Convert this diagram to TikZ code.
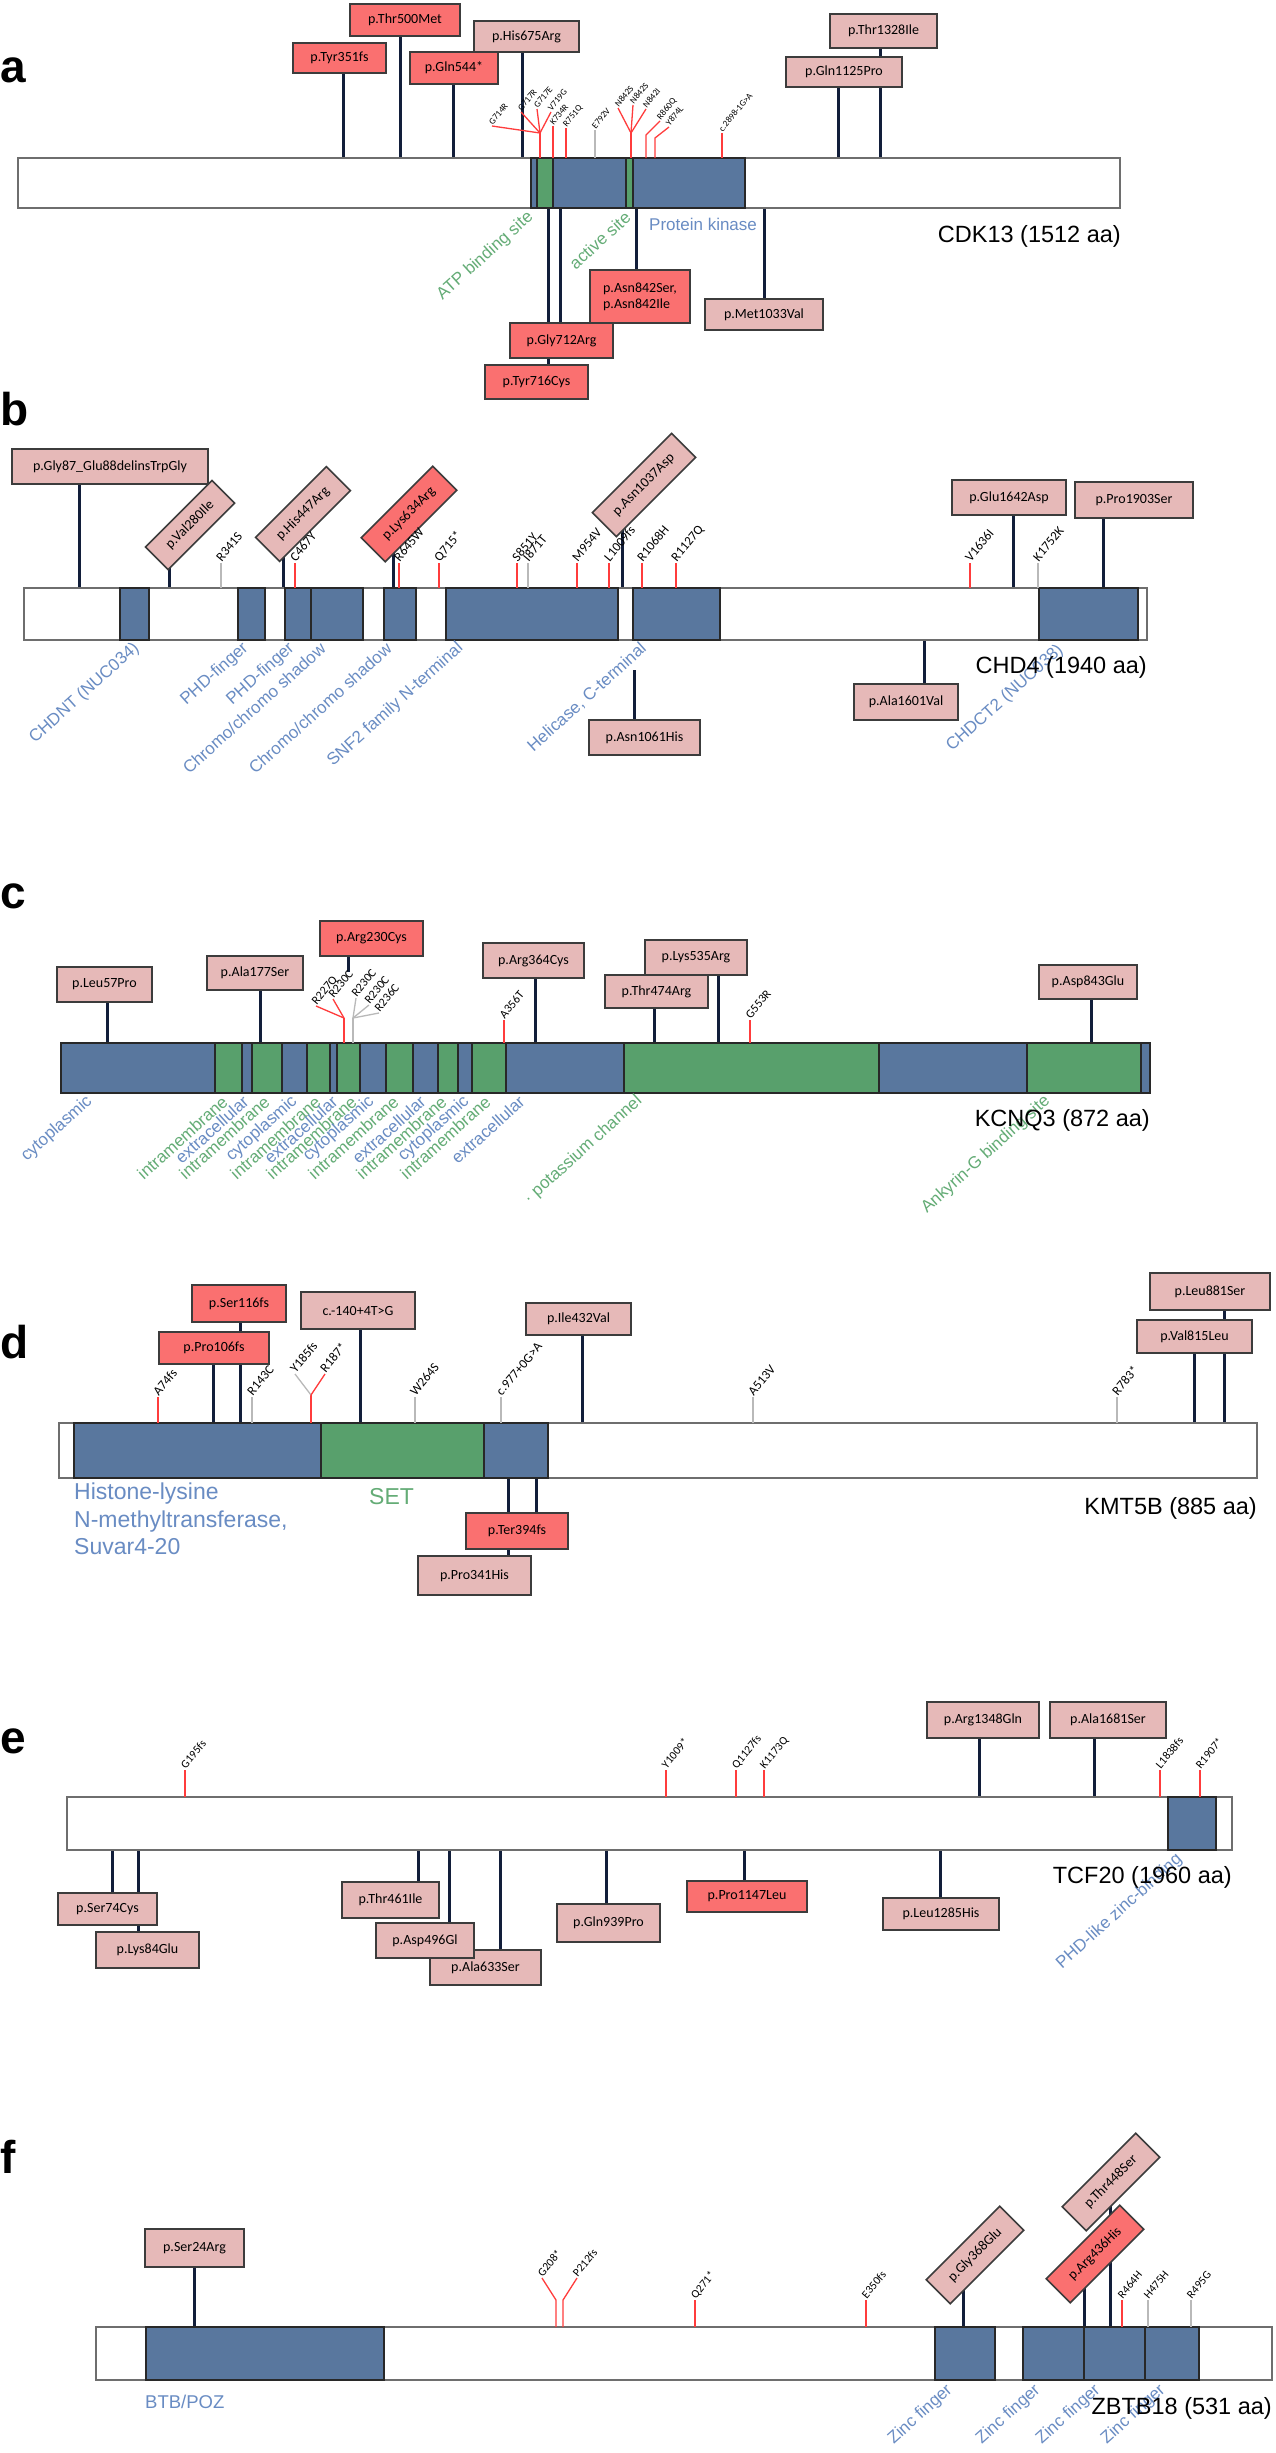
\documentclass[tikz,border=0pt]{standalone}
\usepackage{fontspec}
\setmainfont{Liberation Sans}
\newfontfamily\boxfont{Carlito}
\pgfdeclarelayer{back}
\pgfdeclarelayer{bg}
\pgfsetlayers{back,bg,main}
\definecolor{domblue}{RGB}{89,119,158}
\definecolor{domgreen}{RGB}{88,160,108}
\definecolor{pinkbox}{RGB}{230,185,184}
\definecolor{redbox}{RGB}{250,112,112}
\definecolor{stemnavy}{RGB}{18,30,58}
\definecolor{redline}{RGB}{255,60,60}
\definecolor{grayline}{RGB}{185,185,185}
\definecolor{barc}{RGB}{110,110,110}
\definecolor{domline}{RGB}{40,40,40}
\definecolor{boxline}{RGB}{60,60,60}
\definecolor{labblue}{RGB}{105,140,195}
\definecolor{labgreen}{RGB}{100,172,118}
\def\mlsize{10}
\tikzset{
  protbar/.style={draw=barc, line width=2pt, fill=white},
  dom/.style={draw=domline, line width=1.5pt},
  bluedom/.style={dom, fill=domblue},
  greendom/.style={dom, fill=domgreen},
  lbox/.style={draw=boxline, line width=1.6pt, fill=pinkbox, font=\boxfont\fontsize{14}{16}\selectfont, inner sep=0pt, text=black},
  rbox/.style={lbox, fill=redbox},
  stem/.style={draw=stemnavy, line width=3pt},
  rstem/.style={draw=redline, line width=1.3pt},
  gstem/.style={draw=grayline, line width=1.3pt},
  mlab/.style={font=\boxfont\fontsize{\mlsize}{\mlsize}\selectfont, rotate=50, anchor=base west, inner sep=1pt},
  dlabb/.style={font=\fontsize{17}{19}\selectfont, text=labblue, rotate=42, anchor=east, inner sep=0pt},
  dlabg/.style={dlabb, text=labgreen},
  hlab/.style={font=\fontsize{17}{19}\selectfont, text=labblue, anchor=west, inner sep=0pt},
  gtitle/.style={font=\fontsize{23.5}{26}\selectfont, anchor=east, inner sep=0pt},
  plabel/.style={font=\bfseries\fontsize{46}{50}\selectfont, anchor=base west, inner sep=0pt},
}
\newcommand\BX[7]{\node[#2, minimum width={#5-#3}, minimum height={#6-#4}] (#1) at ({(#3+#5)/2},{(#4+#6)/2}) {#7};}
\newcommand\ST[4]{\coordinate (#1) at (#2,#3);\begin{pgfonlayer}{bg}\draw[stem] (#1) -- (#1 |- #4.center);\end{pgfonlayer}}
\newcommand\ML[6]{\coordinate (#1b) at (#2,#3);\node[mlab] (#1) at (#2,#4) {#6};\draw[#5] (#1b) -- (#1.base west);}
\begin{document}
\begin{tikzpicture}[x=1pt,y=-1pt]
\begin{pgfonlayer}{back}
\fill[white] (0,0) rectangle (1275,2453);
\end{pgfonlayer}
\useasboundingbox (0,0) rectangle (1275,2453);

% ================= Panel a =================
\node[plabel] (pa) at (0,82) {a};
\draw[protbar] (18,158) rectangle (1120,208);
\draw[bluedom] (531,158) rectangle (745,208);
\draw[greendom] (537,158) rectangle (553,208);
\draw[greendom] (626,158) rectangle (633,208);
\BX{Tyr351}{rbox}{293}{43}{386}{73}{p.Tyr351fs}
\BX{Thr500}{rbox}{350}{4}{460}{36}{p.Thr500Met}
\BX{Gln544}{rbox}{410}{52}{498}{84}{p.Gln544*}
\BX{His675}{lbox}{474}{21}{579}{52}{p.His675Arg}
\BX{Thr1328}{lbox}{830}{14}{937}{48}{p.Thr1328Ile}
\BX{Gln1125}{lbox}{786}{57}{902}{87}{p.Gln1125Pro}
\BX{Gly712}{rbox}{510}{323}{613}{358}{p.Gly712Arg}
\BX{Tyr716}{rbox}{485}{365}{588}{399}{p.Tyr716Cys}
\BX{Asn842}{rbox, align=left}{590}{270}{690}{323}{p.Asn842Ser,\\p.Asn842Ile}
\BX{Met1033}{lbox}{705}{299}{823}{330}{p.Met1033Val}
\ST{sA1}{343}{158}{Tyr351}
\ST{sA2}{400}{158}{Thr500}
\ST{sA3}{453}{158}{Gln544}
\ST{sA4}{522}{158}{His675}
\ST{sA5}{838}{158}{Gln1125}
\ST{sA6}{880}{158}{Thr1328}
\ST{sA7}{548}{208}{Tyr716}
\ST{sA8}{560}{208}{Gly712}
\ST{sA9}{636}{208}{Asn842}
\ST{sA10}{764}{208}{Met1033}
\def\mlsize{9}
\coordinate (fA1b) at (540,158); \coordinate (fA1k) at (540,133);
\draw[rstem] (fA1b) -- (fA1k);
\node[mlab] (mG714R) at (492,126) {G714R};
\node[mlab] (mG717R) at (521,112) {G717R};
\node[mlab] (mG717E) at (537,109) {G717E};
\node[mlab] (mV719G) at (551,112) {V719G};
\foreach \n in {mG714R,mG717R,mG717E,mV719G} \draw[rstem] (fA1k) -- (\n.base west);
\ML{mK734R}{553}{158}{126}{rstem}{K734R}
\ML{mR751Q}{566}{158}{128}{rstem}{R751Q}
\ML{mE792V}{595}{158}{130}{gstem}{E792V}
\coordinate (fA2b) at (631,158); \coordinate (fA2k) at (631,133);
\draw[rstem] (fA2b) -- (fA2k);
\node[mlab] (mN842a) at (618,108) {N842S};
\node[mlab] (mN842b) at (633,105) {N842S};
\node[mlab] (mN842c) at (646,109) {N842I};
\foreach \n in {mN842a,mN842b,mN842c} \draw[rstem] (fA2k) -- (\n.base west);
\coordinate (r860b) at (646,158); \coordinate (r860k) at (646,135);
\node[mlab] (mR860Q) at (660,121) {R860Q};
\draw[rstem] (r860b) -- (r860k) -- (mR860Q.base west);
\coordinate (y874b) at (655,158); \coordinate (y874k) at (655,138);
\node[mlab] (mY874L) at (669,127) {Y874L};
\draw[rstem] (y874b) -- (y874k) -- (mY874L.base west);
\ML{mc2898}{722}{158}{133}{rstem}{c.2898-1G>A}
\node[dlabg] (dATP) at (531,215) {ATP binding site};
\node[dlabg] (dact) at (628,215) {active site};
\node[hlab] (dPK) at (649,224) {Protein kinase};
\node[gtitle] (tA) at (1121,236) {CDK13 (1512 aa)};

% ================= Panel b =================
\node[plabel] (pb) at (0,425) {b};
\draw[protbar] (24,588) rectangle (1147,640);
\foreach \a/\b in {120/149,238/265,285/311,311/363,384/416,446/618,633/720,1039/1138}
  \draw[bluedom] (\a,588) rectangle (\b,640);
\BX{Gly87}{lbox}{12}{449}{208}{484}{p.Gly87\_Glu88delinsTrpGly}
\node[lbox, rotate=45, minimum width=94, minimum height=32] (Val280) at (190,525) {p.Val280Ile};
\node[lbox, rotate=45, minimum width=100, minimum height=34] (His447) at (303,514) {p.His447Arg};
\node[rbox, rotate=45, minimum width=101, minimum height=34] (Lys634) at (409,514) {p.Lys634Arg};
\node[lbox, rotate=45, minimum width=112, minimum height=34] (Asn1037) at (644,485) {p.Asn1037Asp};
\BX{Glu1642}{lbox}{952}{480}{1066}{515}{p.Glu1642Asp}
\BX{Pro1903}{lbox}{1075}{482}{1193}{518}{p.Pro1903Ser}
\BX{Asn1061}{lbox}{589}{720}{700}{755}{p.Asn1061His}
\BX{Ala1601}{lbox}{854}{684}{958}{720}{p.Ala1601Val}
\ST{sB1}{79}{588}{Gly87}
\ST{sB2}{169}{588}{Val280}
\ST{sB3}{283}{588}{His447}
\ST{sB4}{393}{588}{Lys634}
\ST{sB5}{622}{588}{Asn1037}
\ST{sB6}{1013}{588}{Glu1642}
\ST{sB7}{1103}{588}{Pro1903}
\ST{sB8}{634}{670}{Asn1061}
\ST{sB9}{924}{640}{Ala1601}
\def\mlsize{13}
\ML{mR341S}{221}{588}{563}{gstem}{R341S}
\ML{mC467Y}{295}{588}{563}{rstem}{C467Y}
\ML{mR645W}{399}{588}{563}{rstem}{R645W}
\ML{mQ715}{439}{588}{563}{rstem}{Q715*}
\ML{mS851Y}{517}{588}{563}{rstem}{S851Y}
\ML{mI871T}{528}{588}{563}{gstem}{I871T}
\ML{mM954V}{577}{588}{563}{rstem}{M954V}
\ML{mL1009}{609}{588}{563}{rstem}{L1009fs}
\ML{mR1068H}{642}{588}{563}{rstem}{R1068H}
\ML{mR1127Q}{676}{588}{563}{rstem}{R1127Q}
\ML{mV1636I}{970}{588}{563}{rstem}{V1636I}
\ML{mK1752K}{1038}{588}{563}{gstem}{K1752K}
\node[dlabb] (dB1) at (137,646) {CHDNT (NUC034)};
\node[dlabb] (dB2) at (246,646) {PHD-finger};
\node[dlabb] (dB3) at (292,646) {PHD-finger};
\node[dlabb] (dB4) at (323,646) {Chromo/chromo shadow};
\node[dlabb] (dB5) at (389,646) {Chromo/chromo shadow};
\node[dlabb] (dB6) at (461,646) {SNF2 family N-terminal};
\node[dlabb] (dB7) at (644,646) {Helicase, C-terminal};
\node[dlabb] (dB8) at (1061,648) {CHDCT2 (NUC038)};
\node[gtitle] (tB) at (1147,667) {CHD4 (1940 aa)};

% ================= Panel c =================
\node[plabel] (pc) at (0,908) {c};
\draw[protbar] (61,1043) rectangle (1150,1093);
\foreach \a/\b/\c in {61/215/domblue,215/242/domgreen,242/252/domblue,252/282/domgreen,282/307/domblue,307/330/domgreen,330/337/domblue,337/360/domgreen,360/386/domblue,386/413/domgreen,413/438/domblue,438/458/domgreen,458/472/domblue,472/506/domgreen,506/624/domblue,624/879/domgreen,879/1027/domblue,1027/1141/domgreen,1141/1150/domblue}
  \draw[dom, fill=\c] (\a,1043) rectangle (\b,1093);
\BX{Leu57}{lbox}{57}{967}{152}{1002}{p.Leu57Pro}
\BX{Ala177}{lbox}{207}{956}{303}{990}{p.Ala177Ser}
\BX{Arg230}{rbox}{320}{921}{423}{956}{p.Arg230Cys}
\BX{Arg364}{lbox}{483}{943}{584}{978}{p.Arg364Cys}
\BX{Lys535}{lbox}{645}{940}{747}{975}{p.Lys535Arg}
\BX{Thr474}{lbox}{605}{975}{708}{1008}{p.Thr474Arg}
\BX{Asp843}{lbox}{1039}{965}{1137}{999}{p.Asp843Glu}
\ST{sC1}{107}{1043}{Leu57}
\ST{sC2}{260}{1043}{Ala177}
\ST{sC3}{348}{972}{Arg230}
\ST{sC4}{535}{1043}{Arg364}
\ST{sC5}{654}{1043}{Thr474}
\ST{sC6}{718}{1043}{Lys535}
\ST{sC7}{1091}{1043}{Asp843}
\def\mlsize{12}
\coordinate (fC1b) at (344,1043); \coordinate (fC1k) at (344,1018);
\draw[rstem] (fC1b) -- (fC1k);
\node[mlab] (mR227Q) at (316,1006) {R227Q};
\node[mlab] (mR230Ca) at (333,999) {R230C};
\foreach \n in {mR227Q,mR230Ca} \draw[rstem] (fC1k) -- (\n.base west);
\coordinate (fC2b) at (353,1043); \coordinate (fC2k) at (353,1018);
\draw[gstem] (fC2b) -- (fC2k);
\node[mlab] (mR230Cb) at (356,998) {R230C};
\node[mlab] (mR230Cc) at (369,1005) {R230C};
\node[mlab] (mR236C) at (379,1013) {R236C};
\foreach \n in {mR230Cb,mR230Cc,mR236C} \draw[gstem] (fC2k) -- (\n.base west);
\ML{mA356T}{504}{1043}{1020}{rstem}{A356T}
\ML{mG553R}{750}{1043}{1020}{rstem}{G553R}
\foreach \x/\t/\s in {90/cytoplasmic/dlabb,225/intramembrane/dlabg,246/extracellular/dlabb,267/intramembrane/dlabg,295/cytoplasmic/dlabb,318/intramembrane/dlabg,335/extracellular/dlabb,354/intramembrane/dlabg,372/cytoplasmic/dlabb,396/intramembrane/dlabg,423/extracellular/dlabb,444/intramembrane/dlabg,467/cytoplasmic/dlabb,488/intramembrane/dlabg,522/extracellular/dlabb}
  \node[\s] (dC\x) at (\x,1099) {\t};
\node[dlabg] (dCpot) at (640,1099) {· potassium channel};
\node[dlabg] (dCank) at (1048,1099) {Ankyrin-G binding site};
\node[gtitle] (tC) at (1150,1120) {KCNQ3 (872 aa)};

% ================= Panel d =================
\node[plabel] (pd) at (0,1358) {d};
\draw[protbar] (59,1423) rectangle (1257,1478);
\draw[bluedom] (74,1423) rectangle (321,1478);
\draw[greendom] (321,1423) rectangle (484,1478);
\draw[bluedom] (484,1423) rectangle (548,1478);
\BX{Ser116}{rbox}{192}{1285}{286}{1322}{p.Ser116fs}
\BX{Pro106}{rbox}{159}{1332}{269}{1364}{p.Pro106fs}
\BX{C140}{lbox}{301}{1292}{415}{1329}{c.-140+4T>G}
\BX{Ile432}{lbox}{526}{1303}{631}{1335}{p.Ile432Val}
\BX{Leu881}{lbox}{1150}{1273}{1270}{1310}{p.Leu881Ser}
\BX{Val815}{lbox}{1137}{1320}{1252}{1353}{p.Val815Leu}
\BX{Pro341}{lbox}{418}{1556}{531}{1595}{p.Pro341His}
\BX{Ter394}{rbox}{466}{1513}{568}{1549}{p.Ter394fs}
\ST{sD1}{213}{1423}{Pro106}
\ST{sD2}{240}{1423}{Ser116}
\ST{sD3}{360}{1423}{C140}
\ST{sD4}{582}{1423}{Ile432}
\ST{sD5}{1194}{1423}{Val815}
\ST{sD6}{1224}{1423}{Leu881}
\ST{sD7}{508}{1478}{Pro341}
\ST{sD8}{536}{1478}{Ter394}
\def\mlsize{13}
\ML{mA74fs}{158}{1423}{1397}{rstem}{A74fs}
\ML{mR143C}{252}{1423}{1397}{gstem}{R143C}
\coordinate (fD1b) at (311,1423); \coordinate (fD1k) at (311,1395);
\draw[rstem] (fD1b) -- (fD1k);
\node[mlab] (mY185) at (295,1374) {Y185fs};
\node[mlab] (mR187) at (325,1374) {R187*};
\draw[gstem] (fD1k) -- (mY185.base west);
\draw[rstem] (fD1k) -- (mR187.base west);
\ML{mW264S}{415}{1423}{1397}{gstem}{W264S}
\ML{mc977}{501}{1423}{1397}{gstem}{c.977+0G>A}
\ML{mA513V}{753}{1423}{1397}{gstem}{A513V}
\ML{mR783}{1117}{1423}{1397}{gstem}{R783*}
\node[font=\fontsize{23}{27.5}\selectfont, text=labblue, anchor=north west, align=left, inner sep=0pt] (dD1) at (74,1483) {Histone-lysine\\N-methyltransferase,\\Suvar4-20};
\node[font=\fontsize{23}{26}\selectfont, text=labgreen, anchor=west, inner sep=0pt] (dD2) at (369,1497) {SET};
\node[gtitle] (tD) at (1257,1508) {KMT5B (885 aa)};

% ================= Panel e =================
\node[plabel] (pe) at (0,1753) {e};
\draw[protbar] (67,1797) rectangle (1232,1850);
\draw[bluedom] (1168,1797) rectangle (1216,1850);
\BX{Arg1348}{lbox}{927}{1702}{1039}{1738}{p.Arg1348Gln}
\BX{Ala1681}{lbox}{1050}{1702}{1166}{1738}{p.Ala1681Ser}
\BX{Ser74}{lbox}{58}{1893}{157}{1925}{p.Ser74Cys}
\BX{Lys84}{lbox}{96}{1932}{199}{1968}{p.Lys84Glu}
\BX{Thr461}{lbox}{342}{1882}{439}{1918}{p.Thr461Ile}
\BX{Ala633}{lbox}{430}{1950}{541}{1985}{p.Ala633Ser}
\BX{Asp496}{lbox}{376}{1923}{474}{1958}{p.Asp496Gl}
\BX{Gln939}{lbox}{557}{1904}{660}{1942}{p.Gln939Pro}
\BX{Pro1147}{rbox}{687}{1881}{807}{1912}{p.Pro1147Leu}
\BX{Leu1285}{lbox}{883}{1898}{999}{1930}{p.Leu1285His}
\ST{sE1}{979}{1797}{Arg1348}
\ST{sE2}{1094}{1797}{Ala1681}
\ST{sE3}{112}{1850}{Ser74}
\ST{sE4}{138}{1850}{Lys84}
\ST{sE5}{418}{1850}{Thr461}
\ST{sE6}{449}{1850}{Asp496}
\ST{sE7}{500}{1850}{Ala633}
\ST{sE8}{606}{1850}{Gln939}
\ST{sE9}{744}{1850}{Pro1147}
\ST{sE10}{940}{1850}{Leu1285}
\def\mlsize{11.5}
\ML{mG195}{185}{1797}{1770}{rstem}{G195fs}
\ML{mY1009}{666}{1797}{1770}{rstem}{Y1009*}
\ML{mQ1127}{736}{1797}{1770}{rstem}{Q1127fs}
\ML{mK1173}{764}{1797}{1770}{rstem}{K1173Q}
\ML{mL1838}{1160}{1797}{1770}{rstem}{L1838fs}
\ML{mR1907}{1200}{1797}{1770}{rstem}{R1907*}
\node[dlabb] (dE1) at (1180,1857) {PHD-like zinc-binding};
\node[gtitle] (tE) at (1232,1877) {TCF20 (1960 aa)};

% ================= Panel f =================
\node[plabel] (pf) at (0,2173) {f};
\draw[protbar] (96,2327) rectangle (1272,2380);
\foreach \a/\b in {146/384,935/995,1023/1084,1084/1145,1145/1199}
  \draw[bluedom] (\a,2327) rectangle (\b,2380);
\BX{Ser24}{lbox}{145}{2229}{244}{2267}{p.Ser24Arg}
\node[lbox, rotate=45, minimum width=104, minimum height=34] (Gly368) at (975,2255) {p.Gly368Glu};
\node[lbox, rotate=45, minimum width=104, minimum height=34] (Thr448) at (1111,2182) {p.Thr448Ser};
\node[rbox, rotate=45, minimum width=104, minimum height=34] (Arg436) at (1095,2254) {p.Arg436His};
\ST{sF1}{194}{2327}{Ser24}
\ST{sF2}{963}{2327}{Gly368}
\ST{sF3}{1084}{2327}{Arg436}
\ST{sF4}{1110}{2327}{Thr448}
\def\mlsize{11.5}
\coordinate (g208b) at (556,2327); \coordinate (g208k) at (556,2300);
\coordinate (p212b) at (563,2327); \coordinate (p212k) at (563,2300);
\node[mlab] (mG208) at (542,2278) {G208*};
\node[mlab] (mP212) at (577,2278) {P212fs};
\draw[rstem] (g208b) -- (g208k) -- (mG208.base west);
\draw[rstem] (p212b) -- (p212k) -- (mP212.base west);
\ML{mQ271}{695}{2327}{2300}{rstem}{Q271*}
\ML{mE350}{866}{2327}{2300}{rstem}{E350fs}
\ML{mR464H}{1122}{2327}{2300}{rstem}{R464H}
\ML{mH475H}{1148}{2327}{2300}{gstem}{H475H}
\ML{mR495G}{1191}{2327}{2300}{gstem}{R495G}
\node[hlab, font=\fontsize{18.5}{20}\selectfont] (dF1) at (145,2402) {BTB/POZ};
\node[dlabb] (dF2) at (950,2388) {Zinc finger};
\node[dlabb] (dF3) at (1038,2388) {Zinc finger};
\node[dlabb] (dF4) at (1098,2388) {Zinc finger};
\node[dlabb] (dF5) at (1163,2388) {Zinc finger};
\node[gtitle] (tF) at (1272,2408) {ZBTB18 (531 aa)};
\end{tikzpicture}
\end{document}
